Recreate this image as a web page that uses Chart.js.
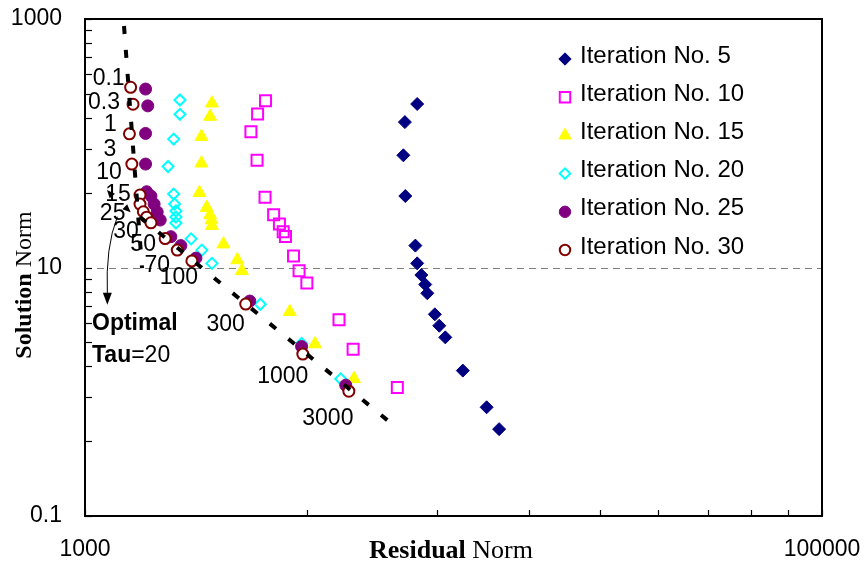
<!DOCTYPE html>
<html>
<head>
<meta charset="utf-8">
<script src="https://cdn.jsdelivr.net/npm/chart.js@4.4.1/dist/chart.umd.min.js"></script>
<style>
  html, body { margin: 0; padding: 0; background: #fff; }
  #wrap { width: 864px; height: 568px; }
</style>
</head>
<body>
<div id="wrap"><canvas id="myChart" width="864" height="568"></canvas></div>
<script>
// Residual norm (x) and solution norm (y) for each iteration count
const resid5  = [7970, 7380, 7310, 7400, 7880, 7970, 8180, 8380, 8490, 8900, 9150, 9500, 10600, 12300, 13300];
const soln5   = [207, 148, 80, 37.6, 15.0, 10.8, 8.7, 7.3, 6.2, 4.2, 3.4, 2.74, 1.48, 0.75, 0.50];

const resid10 = [3090, 2940, 2820, 2930, 3080, 3250, 3370, 3450, 3500, 3680, 3810, 4000, 4890, 5340, 7040];
const soln10  = [220, 172, 124, 73, 36.7, 26.6, 22.4, 19.4, 17.8, 12.4, 9.4, 7.5, 3.8, 2.2, 1.08];

const resid15 = [2210, 2185, 2070, 2070, 2045, 2140, 2185, 2205, 2210, 2375, 2590, 2665, 3595, 4210, 5370];
const soln15  = [210, 164, 113, 69, 40, 30.3, 26.5, 24.1, 21.7, 15.4, 11.5, 9.4, 4.4, 2.42, 1.27];

const resid20 = [1810, 1810, 1740, 1680, 1740, 1750, 1765, 1765, 1765, 1940, 2075, 2210, 2990, 3870, 4940];
const soln20  = [223, 171, 108, 65, 39, 32.4, 28.5, 25.5, 22.8, 17.0, 13.8, 10.8, 5.06, 2.45, 1.27];

const resid25 = [1460, 1480, 1460, 1460, 1470, 1510, 1540, 1570, 1600, 1710, 1820, 2000, 2800, 3870, 5100];
const soln25  = [273, 200, 120, 68, 40.7, 37.6, 32.4, 28, 24.1, 17.7, 15.0, 11.9, 5.37, 2.31, 1.13];

const resid30 = [1330, 1350, 1320, 1340, 1410, 1410, 1440, 1470, 1510, 1650, 1780, 1950, 2730, 3900, 5200];
const soln30  = [282, 206, 119, 68, 38.3, 32.4, 28.1, 25.4, 22.9, 17.1, 13.8, 11.3, 5.08, 2.01, 1.01];

// regularisation parameter tau for each point of the last iteration
const tauValues = ['0.1', '0.3', '1', '3', '10', '15', '20', '25', '30', '50', '70', '100', '300', '1000', '3000'];
const optimalTau = '20';

// the two dashed asymptotes of the L-curve
const steepResid = [1276, 1428];
const steepSoln  = [878, 9.9];
const flatResid  = [1410, 6809];
const flatSoln   = [25.5, 0.55];

const seriesNames = ['Iteration No. 5', 'Iteration No. 10', 'Iteration No. 15',
                     'Iteration No. 20', 'Iteration No. 25', 'Iteration No. 30'];

// axes: log base 100, labels only on the majors
const xMajorTicks = [1000, 100000];
const xTickLabels = ['1000', '100000'];
const yMajorTicks = [0.1, 10, 1000];
const yTickLabels = ['0.1', '10', '1000'];
const minorFactors = [4, 9, 16, 25, 36, 49, 64, 81];

function allTicks(majors) {
    const out = [];
    majors.forEach((m, i) => {
        out.push(m);
        if (i < majors.length - 1) minorFactors.forEach(f => out.push(m * f));
    });
    return out;
}
function labelFor(v, majors, labels) {
    const i = majors.findIndex(m => Math.abs(v - m) / m < 1e-6);
    return i < 0 ? '' : labels[i];
}
function pts(xs, ys) {
    return xs.map((x, i) => ({ x: x, y: ys[i] }));
}

const styles = [
    { style: 'diamond', fill: '#000080', stroke: '#000080', r: 6.5, lw: 1 },
    { style: 'square', fill: null, stroke: '#FF00FF', r: 5.5, lw: 2 },
    { style: 'triangle', fill: '#FFFF00', stroke: '#FFFF00', r: 7.5, lw: 1 },
    { style: 'diamond', fill: null, stroke: '#00FFFF', r: 5.5, lw: 2 },
    { style: 'circle', fill: '#800080', stroke: '#800080', r: 6, lw: 1 },
    { style: 'circle', fill: '#FFFFFF', stroke: '#800000', r: 5.5, lw: 2 }
];
const cjsStyle = { diamond: 'rectRot', square: 'rect', triangle: 'triangle', circle: 'circle' };

function marker(ctx, s, x, y, scale) {
    const r = s.r * (scale || 1);
    ctx.beginPath();
    if (s.style === 'diamond') {
        ctx.moveTo(x, y - r); ctx.lineTo(x + r, y); ctx.lineTo(x, y + r); ctx.lineTo(x - r, y); ctx.closePath();
    } else if (s.style === 'square') {
        ctx.rect(x - r, y - r, 2 * r, 2 * r);
    } else if (s.style === 'triangle') {
        ctx.moveTo(x, y - r); ctx.lineTo(x + r * 0.866, y + r * 0.5); ctx.lineTo(x - r * 0.866, y + r * 0.5); ctx.closePath();
    } else {
        ctx.arc(x, y, r, 0, Math.PI * 2);
    }
    if (s.fill) { ctx.fillStyle = s.fill; ctx.fill(); }
    ctx.lineWidth = s.lw; ctx.strokeStyle = s.stroke; ctx.stroke();
}

function drawMixed(ctx, parts, cx, cy) {
    let w = 0;
    parts.forEach(p => { ctx.font = p.font; w += ctx.measureText(p.text).width; });
    let x = cx - w / 2;
    ctx.textAlign = 'left';
    ctx.textBaseline = 'middle';
    parts.forEach(p => { ctx.font = p.font; ctx.fillText(p.text, x, cy); x += ctx.measureText(p.text).width; });
}

function arrowHead(ctx, x, y, angle, len, half) {
    ctx.save();
    ctx.translate(x, y);
    ctx.rotate(angle);
    ctx.beginPath();
    ctx.moveTo(0, 0);
    ctx.lineTo(-len, -half);
    ctx.lineTo(-len, half);
    ctx.closePath();
    ctx.fill();
    ctx.restore();
}

const SANS = '"Liberation Sans", Arial, sans-serif';
const SERIF = '"Liberation Serif", "Times New Roman", serif';

// label offsets from each tau point, in pixels
const tauOffsets = [[-22, -9], [-29, -2], [-19, -9], [-22, -14], [-31, -22], [-22, -9], null,
                    [-34, -4], [-25, 9], [-22, 6], [-20, 16], [-13, 17], [-20, 21], [-20, 23], [-21, 27]];

const decorations = {
    id: 'decorations',
    beforeDatasetsDraw(chart) {
        const { ctx, chartArea: a, scales: { y } } = chart;
        ctx.save();
        ctx.strokeStyle = '#808080';
        ctx.lineWidth = 1;
        ctx.setLineDash([7, 5]);
        const yy = Math.round(y.getPixelForValue(10)) + 0.5;
        ctx.beginPath(); ctx.moveTo(a.left, yy); ctx.lineTo(a.right, yy); ctx.stroke();
        ctx.restore();
    },
    afterDatasetsDraw(chart) {
        const { ctx, chartArea: a, scales: { x, y } } = chart;
        ctx.save();

        // plot box + inward ticks
        ctx.strokeStyle = '#000';
        ctx.lineWidth = 2;
        ctx.strokeRect(a.left, a.top, a.right - a.left, a.bottom - a.top);
        ctx.lineWidth = 1.2;
        allTicks(yMajorTicks).forEach(v => {
            const py = Math.round(y.getPixelForValue(v)) + 0.5;
            ctx.beginPath(); ctx.moveTo(a.left, py); ctx.lineTo(a.left + 7, py); ctx.stroke();
        });
        allTicks(xMajorTicks).forEach(v => {
            const px = Math.round(x.getPixelForValue(v)) + 0.5;
            ctx.beginPath(); ctx.moveTo(px, a.bottom); ctx.lineTo(px, a.bottom - 6); ctx.stroke();
        });

        // tau labels next to the last iteration
        ctx.fillStyle = '#000';
        ctx.font = '23px ' + SANS;
        ctx.textAlign = 'center';
        ctx.textBaseline = 'middle';
        tauValues.forEach((t, i) => {
            const off = tauOffsets[i];
            if (!off) return;
            const px = x.getPixelForValue(resid30[i]);
            const py = y.getPixelForValue(soln30[i]);
            ctx.fillText(t, px + off[0], py + off[1]);
        });
        // small pointers beside the 15 and 25 labels
        const p15x = x.getPixelForValue(resid30[5]), p15y = y.getPixelForValue(soln30[5]);
        arrowHead(ctx, p15x - 33, p15y - 14, -2.3, 8, 3.5);
        const p25x = x.getPixelForValue(resid30[7]), p25y = y.getPixelForValue(soln30[7]);
        arrowHead(ctx, p25x - 16, p25y - 5, 0.75, 8, 3.5);

        // optimal tau arrow
        const oi = tauValues.indexOf(optimalTau);
        const ox = x.getPixelForValue(resid30[oi]) - 26;
        const oy = y.getPixelForValue(soln30[oi]) + 5;
        ctx.strokeStyle = '#000';
        ctx.lineWidth = 1;
        ctx.beginPath();
        ctx.moveTo(ox, oy);
        ctx.quadraticCurveTo(ox - 12, oy + 30, ox - 10, oy + 78);
        ctx.stroke();
        ctx.beginPath();
        ctx.moveTo(ox - 10, oy + 88);
        ctx.lineTo(ox - 14.5, oy + 76);
        ctx.lineTo(ox - 5.5, oy + 76);
        ctx.closePath();
        ctx.fill();

        ctx.textAlign = 'left';
        ctx.textBaseline = 'middle';
        ctx.font = 'bold 23px ' + SANS;
        ctx.fillText('Optimal', 92, 324);
        ctx.fillText('Tau', 92, 356);
        const tw = ctx.measureText('Tau').width;
        ctx.font = '23px ' + SANS;
        ctx.fillText('=' + optimalTau, 92 + tw, 356);

        // legend
        ctx.font = '24px ' + SANS;
        seriesNames.forEach((name, i) => {
            const ly = 56 + i * 38.2;
            marker(ctx, styles[i], 565, ly + 3, 0.95);
            ctx.fillStyle = '#000';
            ctx.textAlign = 'left';
            ctx.textBaseline = 'middle';
            ctx.fillText(name, 580, ly);
        });

        // axis titles
        ctx.fillStyle = '#000';
        drawMixed(ctx, [{ text: 'Residual', font: 'bold 26px ' + SERIF },
                        { text: ' Norm', font: '26px ' + SERIF }], 451, 551);
        ctx.translate(25, 285);
        ctx.rotate(-Math.PI / 2);
        drawMixed(ctx, [{ text: 'Solution', font: 'bold 24px ' + SERIF },
                        { text: ' Norm', font: '24px ' + SERIF }], 0, 0);
        ctx.restore();
    }
};

const seriesData = [pts(resid5, soln5), pts(resid10, soln10), pts(resid15, soln15),
                    pts(resid20, soln20), pts(resid25, soln25), pts(resid30, soln30)];

const datasets = seriesData.map((d, i) => ({
    label: seriesNames[i],
    data: d,
    pointStyle: cjsStyle[styles[i].style],
    pointRadius: styles[i].style === 'square' ? styles[i].r * Math.SQRT2 : styles[i].r,
    pointBackgroundColor: styles[i].fill || 'rgba(0,0,0,0)',
    pointBorderColor: styles[i].stroke,
    pointBorderWidth: styles[i].lw,
    showLine: false,
    order: 6 - i
}));
[pts(steepResid, steepSoln), pts(flatResid, flatSoln)].forEach((d, k) => {
    datasets.push({
        label: k === 0 ? 'steep asymptote' : 'flat asymptote',
        data: d,
        showLine: true,
        pointRadius: 0,
        borderColor: '#000',
        borderWidth: 4,
        borderDash: [8, 16],
        borderCapStyle: 'butt',
        order: 0
    });
});

// keep the plot box where the reference has it: no extra room for edge labels
function noEdgePadding(s) {
    s.paddingTop = 0; s.paddingBottom = 0; s.paddingLeft = 0; s.paddingRight = 0;
}

const ctx = document.getElementById('myChart');
new Chart(ctx, {
    type: 'scatter',
    data: { datasets: datasets },
    options: {
        responsive: false,
        animation: false,
        devicePixelRatio: 1,
        layout: { padding: { top: 19, right: 42, left: 0, bottom: 0 } },
        plugins: { legend: { display: false }, tooltip: { enabled: false } },
        scales: {
            x: {
                type: 'logarithmic', min: 1000, max: 100000,
                grid: { display: false, drawTicks: false },
                border: { display: false },
                afterBuildTicks: s => { s.ticks = allTicks(xMajorTicks).map(v => ({ value: v })); },
                afterFit: s => { s.height = 52; noEdgePadding(s); },
                ticks: {
                    autoSkip: false, maxRotation: 0, minRotation: 0, padding: 20,
                    color: '#000', font: { size: 23, family: SANS },
                    callback: v => labelFor(v, xMajorTicks, xTickLabels)
                }
            },
            y: {
                type: 'logarithmic', min: 0.1, max: 1000,
                grid: { display: false, drawTicks: false },
                border: { display: false },
                afterBuildTicks: s => { s.ticks = allTicks(yMajorTicks).map(v => ({ value: v })); },
                afterFit: s => { s.width = 85; noEdgePadding(s); },
                ticks: {
                    autoSkip: false, padding: 23,
                    color: '#000', font: { size: 23, family: SANS },
                    callback: v => labelFor(v, yMajorTicks, yTickLabels)
                }
            }
        }
    },
    plugins: [decorations]
});
</script>
</body>
</html>
